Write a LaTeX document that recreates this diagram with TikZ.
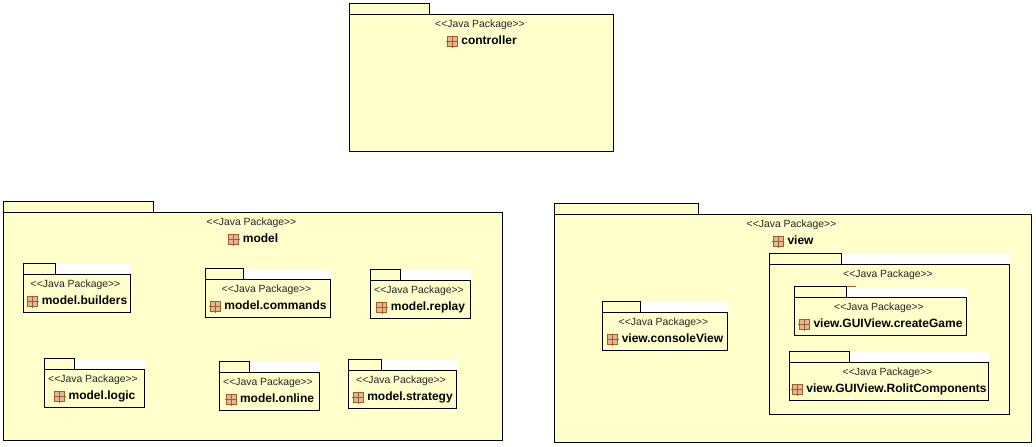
\documentclass[tikz,border=0pt]{standalone}
\usepackage{fontspec}
\setmainfont{Liberation Sans}
\usetikzlibrary{positioning}
\definecolor{pkgyellow}{HTML}{FFFFCC}
\definecolor{iconfill}{HTML}{DDB99A}
\definecolor{iconline}{HTML}{A85A28}
\tikzset{
  pkgbox/.style={draw=black,fill=pkgyellow,line width=1pt},
  pkgstereo/.style={inner sep=0pt,font=\fontsize{10.4}{12}\selectfont,text=black!85},
  pkgname/.style={inner sep=0pt,text height=8.8pt,text depth=2.4pt,font=\fontsize{12}{14}\selectfont\bfseries},
  pkgicon/.style={draw=iconline,fill=iconfill,line width=0.8pt,inner sep=0pt,minimum size=10pt},
  pkgcross/.style={draw=iconline,line width=0.7pt}
}
% id, left, tab top, tab right, right, body top, bottom
\newcommand{\pkgshape}[7]{
  \fill[white] (#2,#3) rectangle (#5+0.5,#6);
  \draw[pkgbox] (#2,#3) rectangle (#4,#6);
  \draw[pkgbox] (#2,#6) rectangle (#5,#7);
  \node[pkgstereo] (#1-stereo) at ({(#2+#5)/2-1.5},#6+10.5) {{<}{<}Java Package{>}{>}};
}
\newcommand{\pkgmark}[1]{
  \draw[pkgcross] ([xshift=-6pt]#1.center) -- ([xshift=6pt]#1.center);
  \draw[pkgcross] ([yshift=-6pt]#1.center) -- ([yshift=6pt]#1.center);
}
% as \pkgshape, then the label
\newcommand{\javapkg}[8]{
  \pkgshape{#1}{#2}{#3}{#4}{#5}{#6}{#7}
  \node[pkgname] (#1-name) at ({(#2+#5)/2+7.5},#6+27) {#8};
  \node[pkgicon,left=3.5pt of #1-name] (#1-icon) {};
  \pkgmark{#1-icon}
}
\begin{document}
\begin{tikzpicture}[x=1pt,y=-1pt]
  \useasboundingbox (0,0) rectangle (1036,447);
  \begin{scope}[xshift=0.5pt,yshift=-0.5pt]
  \javapkg{controller}{349}{3}{429}{613}{14}{151}{controller}
  % model
  \javapkg{model}{3}{201}{153}{502}{212}{440}{model}
  \javapkg{builders}{23}{263}{55}{130}{274}{312}{model.builders}
  \javapkg{commands}{205}{268}{243}{330}{279}{317}{model.commands}
  \javapkg{replay}{370}{269}{400}{470}{280}{318}{model.replay}
  \javapkg{logic}{44}{358}{74}{144}{369}{407}{model.logic}
  \javapkg{online}{219}{361}{249}{319}{372}{410}{model.online}
  \javapkg{strategy}{348}{359}{381}{456}{370}{408}{model.strategy}
  % view
  \javapkg{view}{554}{203}{698}{1031}{214}{442}{view}
  \javapkg{consoleView}{602}{301}{640}{727}{312}{350}{view.consoleView}
  \pkgshape{GUIView}{769}{253}{841}{1009}{264}{414}
  \node[pkgicon] (GUIView-icon) at (850,291) {};
  \pkgmark{GUIView-icon}
  \javapkg{createGame}{794}{286}{846}{966}{297}{335}{view.GUIView.createGame}
  \javapkg{RolitComponents}{789}{351}{849}{988}{362}{400}{view.GUIView.RolitComponents}
  \end{scope}
\end{tikzpicture}
\end{document}
